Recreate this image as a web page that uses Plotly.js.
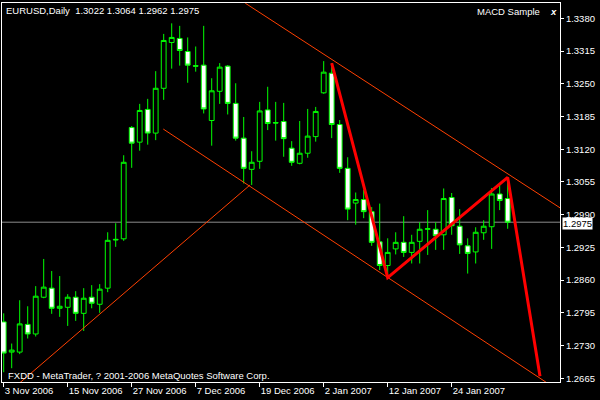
<!DOCTYPE html>
<html>
<head>
<meta charset="utf-8">
<script src="https://cdn.plot.ly/plotly-3.0.1.min.js"></script>
<style>html,body{margin:0;padding:0;background:#000;}#chart{width:600px;height:400px;}</style>
</head>
<body>
<div id="chart"></div>
<script>
// ---- data (bar index 0 = 3 Nov 2006) ----
const barIndex = Array.from({length: 64}, (_, i) => i);
const openPx = [1.2777,1.2717,1.2717,1.2772,1.2753,1.2826,1.2844,1.2804,1.2806,1.2826,
  1.2794,1.2826,1.2812,1.2844,1.2941,1.2942,1.3163,1.3134,1.3199,1.3152,
  1.3241,1.3332,1.3340,1.3314,1.3286,1.3287,1.3177,1.3235,1.3285,1.3211,
  1.3142,1.3080,1.3096,1.3198,1.3173,1.3175,1.3122,1.3092,1.3112,1.3145,
  1.3232,1.3271,1.3169,1.3082,1.3013,1.3020,1.2996,1.2936,1.2889,1.2922,
  1.2935,1.2915,1.2937,1.2961,1.2961,1.2950,1.3024,1.2967,1.2928,1.2916,
  1.2954,1.2966,1.3031,1.3022];
const highPx = [1.2794,1.2734,1.2820,1.2808,1.2848,1.2902,1.2878,1.2868,1.2832,1.2838,
  1.2844,1.2850,1.2852,1.2955,1.2973,1.3108,1.3166,1.3210,1.3220,1.3275,
  1.3349,1.3370,1.3365,1.3342,1.3324,1.3365,1.3261,1.3291,1.3287,1.3251,
  1.3184,1.3116,1.3214,1.3244,1.3214,1.3212,1.3136,1.3176,1.3200,1.3204,
  1.3295,1.3291,1.3178,1.3104,1.3034,1.3039,1.3005,1.3012,1.2943,1.2955,
  1.2987,1.2950,1.2975,1.2999,1.2975,1.3042,1.3033,1.3001,1.2943,1.2965,
  1.2979,1.3043,1.3049,1.3064];
const lowPx = [1.2677,1.2685,1.2713,1.2744,1.2748,1.2824,1.2793,1.2787,1.2769,1.2779,
  1.2759,1.2804,1.2795,1.2836,1.2926,1.2938,1.3083,1.3117,1.3129,1.3138,
  1.3218,1.3280,1.3286,1.3252,1.3274,1.3191,1.3127,1.3210,1.3189,1.3137,
  1.3052,1.3049,1.3081,1.3158,1.3137,1.3105,1.3087,1.3090,1.3103,1.3135,
  1.3230,1.3142,1.3073,1.2979,1.2970,1.2983,1.2928,1.2880,1.2865,1.2911,
  1.2906,1.2893,1.2893,1.2910,1.2920,1.2920,1.2950,1.2912,1.2873,1.2893,
  1.2940,1.2922,1.2999,1.2962];
const closePx = [1.2715,1.2721,1.2773,1.2753,1.2828,1.2846,1.2804,1.2808,1.2826,1.2794,
  1.2824,1.2814,1.2842,1.2939,1.2940,1.3094,1.3132,1.3197,1.3152,1.3241,
  1.3336,1.3342,1.3316,1.3287,1.3285,1.3200,1.3236,1.3283,1.3211,1.3142,
  1.3082,1.3094,1.3196,1.3171,1.3172,1.3141,1.3094,1.3112,1.3146,1.3195,
  1.3273,1.3169,1.3082,1.3001,1.3020,1.2996,1.2935,1.2889,1.2915,1.2935,
  1.2915,1.2935,1.2961,1.2962,1.2948,1.3022,1.2968,1.2930,1.2913,1.2955,
  1.2967,1.3031,1.3018,1.2975];

const dateTickIdx = [0, 8, 16, 24, 32, 40, 48, 56];
const dateTickText = ['3 Nov 2006','15 Nov 2006','27 Nov 2006','7 Dec 2006',
  '19 Dec 2006','2 Jan 2007','12 Jan 2007','24 Jan 2007'];
const priceTicks = [1.2665,1.2730,1.2795,1.2860,1.2925,1.2990,1.3055,1.3120,1.3185,1.3250,1.3315,1.3380];

const bidPrice = 1.2975;

// trend-line anchors (bar index, price)
const upperChannelIdx = [30.2, 69.6];
const upperChannelPx  = [1.3410, 1.3003];
const lowerChannelIdx = [19.95, 70];
const lowerChannelPx  = [1.3160, 1.2634];
const risingLineIdx   = [1.5, 30.8];
const risingLinePx    = [1.2649, 1.3049];
const zigzagIdx = [41, 48, 63, 67.04];
const zigzagPx  = [1.3291, 1.2865, 1.3064, 1.2669];

const FONT = 'Liberation Sans, Arial, sans-serif';
const FS = 9.5;
const thinRed = 'rgb(255,64,0)';

const traces = [
  {
    type: 'candlestick',
    x: barIndex, open: openPx, high: highPx, low: lowPx, close: closePx,
    increasing: {line: {color: '#00FF00', width: 1}, fillcolor: '#000000'},
    decreasing: {line: {color: '#00FF00', width: 1}, fillcolor: '#FFFFFF'},
    whiskerwidth: 0,
    hoverinfo: 'skip',
    showlegend: false
  },
  {type: 'scatter', mode: 'lines', x: upperChannelIdx, y: upperChannelPx,
   line: {color: thinRed, width: 1}, showlegend: false, hoverinfo: 'skip'},
  {type: 'scatter', mode: 'lines', x: lowerChannelIdx, y: lowerChannelPx,
   line: {color: thinRed, width: 1}, showlegend: false, hoverinfo: 'skip'},
  {type: 'scatter', mode: 'lines', x: risingLineIdx, y: risingLinePx,
   line: {color: thinRed, width: 1}, showlegend: false, hoverinfo: 'skip'},
  {type: 'scatter', mode: 'lines', x: zigzagIdx, y: zigzagPx,
   line: {color: '#FF0000', width: 3}, showlegend: false, hoverinfo: 'skip'}
];

const layout = {
  width: 600, height: 400,
  paper_bgcolor: '#000000', plot_bgcolor: '#000000',
  margin: {l: 2, r: 40, t: 3, b: 18, pad: 0},
  showlegend: false,
  boxgap: 0.4, boxgroupgap: 0,
  font: {family: FONT, size: FS, color: '#FFFFFF'},
  title: {
    text: 'EURUSD,Daily  1.3022 1.3064 1.2962 1.2975',
    font: {family: FONT, size: FS, color: '#FFFFFF'},
    x: 6/600, xanchor: 'left', xref: 'container',
    y: 1 - 11/400, yanchor: 'middle', yref: 'container'
  },
  xaxis: {
    range: [-0.2125, 69.54],
    rangeslider: {visible: false},
    showgrid: false, zeroline: false,
    showline: true, mirror: true, linecolor: '#FFFFFF', linewidth: 1,
    ticks: 'outside', ticklen: 4, tickcolor: '#FFFFFF', tickwidth: 1,
    tickmode: 'array', tickvals: dateTickIdx, ticktext: dateTickText,
    ticklabelposition: 'outside right', tickangle: 0, automargin: false,
    tickfont: {family: FONT, size: FS, color: '#FFFFFF'},
    fixedrange: true
  },
  yaxis: {
    side: 'right',
    range: [1.26576, 1.34104],
    showgrid: false, zeroline: false,
    showline: true, mirror: true, linecolor: '#FFFFFF', linewidth: 1,
    ticks: 'outside', ticklen: 3, tickcolor: '#FFFFFF', tickwidth: 1,
    tickmode: 'array', tickvals: priceTicks,
    ticktext: priceTicks.map(v => v.toFixed(4)),
    tickfont: {family: FONT, size: FS, color: '#FFFFFF'},
    automargin: false,
    fixedrange: true
  },
  shapes: [
    {type: 'line', xref: 'paper', x0: 0, x1: 1, yref: 'y', y0: bidPrice, y1: bidPrice,
     line: {color: '#8C8C8C', width: 1}, layer: 'below'}
  ],
  annotations: [
    {xref: 'paper', yref: 'y', x: 1, y: bidPrice, xanchor: 'left', yanchor: 'middle',
     xshift: 2, yshift: -1, text: bidPrice.toFixed(4), showarrow: false,
     bgcolor: '#FFFFFF', borderpad: 0, font: {family: FONT, size: FS, color: '#000000'}},
    {xref: 'paper', yref: 'paper', x: 540/558, y: 1, xanchor: 'right', yanchor: 'middle',
     yshift: -8, text: 'MACD Sample', showarrow: false,
     font: {family: FONT, size: FS, color: '#FFFFFF'}},
    {xref: 'paper', yref: 'paper', x: 546/558, y: 1, xanchor: 'left', yanchor: 'middle',
     yshift: -8, text: '<b><i>x</i></b>', showarrow: false,
     font: {family: FONT, size: FS, color: '#FFFFFF'}},
    {xref: 'paper', yref: 'paper', x: 4/558, y: 0, xanchor: 'left', yanchor: 'middle',
     yshift: 7, text: 'FXDD - MetaTrader, ? 2001-2006 MetaQuotes Software Corp.', showarrow: false,
     font: {family: FONT, size: FS, color: '#FFFFFF'}}
  ]
};

Plotly.newPlot('chart', traces, layout, {staticPlot: true, displayModeBar: false});
</script>
</body>
</html>
